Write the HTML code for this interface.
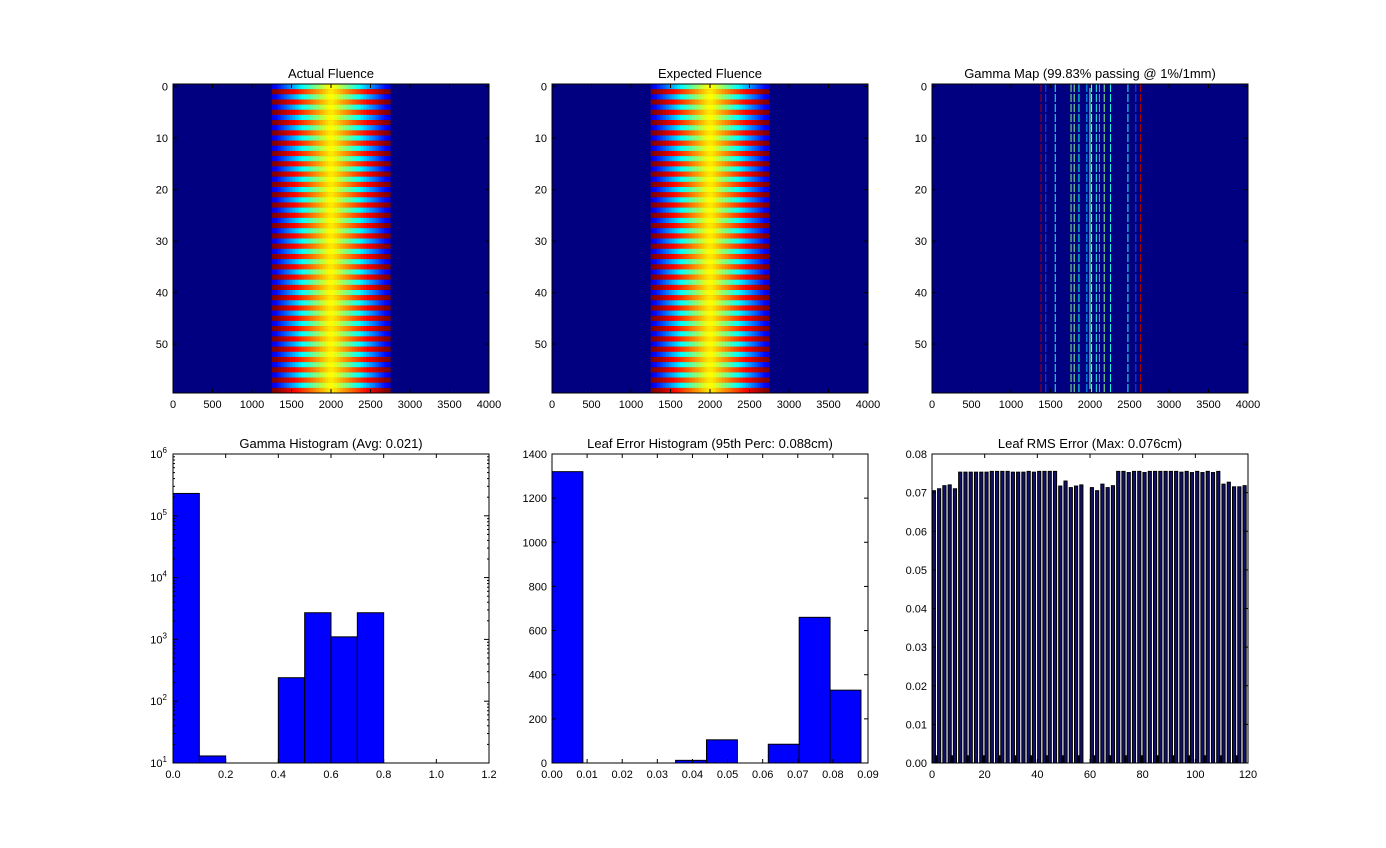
<!DOCTYPE html>
<html><head><meta charset="utf-8"><style>
body{margin:0;background:#fff;}
svg{display:block;font-family:"Liberation Sans","DejaVu Sans",sans-serif;}
</style></head><body>
<svg id="fig" width="1386" height="848" xmlns="http://www.w3.org/2000/svg"></svg>
<script>
// ---- data ----
const gammaBinEdges=[0,0.1,0.2,0.3,0.4,0.5,0.6,0.7,0.8,0.9,1.0];
const gammaCounts=[230000,13,0,0,240,2700,1100,2700,0,0];
const leafBinEdges=[0,0.0088,0.0176,0.0264,0.0352,0.044,0.0528,0.0616,0.0704,0.0792,0.088];
const leafCounts=[1320,0,0,0,12,105,0,85,660,330];
const rmsLeaves=[0,2,4,6,8,10,12,14,16,18,20,22,24,26,28,30,32,34,36,38,40,42,44,46,48,50,52,54,56,58,60,62,64,66,68,70,72,74,76,78,80,82,84,86,88,90,92,94,96,98,100,102,104,106,108,110,112,114,116,118];
const rmsValues=[0.0705,0.071,0.0718,0.072,0.071,0.0753,0.0753,0.0753,0.0753,0.0753,0.0753,0.0755,0.0755,0.0755,0.0755,0.0753,0.0753,0.0753,0.0755,0.0753,0.0755,0.0755,0.0755,0.0755,0.0717,0.073,0.0713,0.0717,0.072,0.0,0.0713,0.0705,0.0722,0.0713,0.0718,0.0755,0.0755,0.0752,0.0755,0.0755,0.0752,0.0755,0.0755,0.0755,0.0755,0.0755,0.0755,0.0753,0.0755,0.0752,0.0755,0.0752,0.0755,0.0752,0.0755,0.0722,0.0727,0.0715,0.0715,0.0718];
const gammaLinesX=[1380,1440,1560,1760,1800,1860,1960,2020,2080,2120,2180,2260,2480,2580,2640];
const gammaLinesV=[0.95,0.2,0.4,0.5,0.5,0.4,0.3,0.55,0.4,0.3,0.5,0.4,0.4,0.2,0.95];
const xTicksImg=[0,500,1000,1500,2000,2500,3000,3500,4000];
const yTicksImg=[0,10,20,30,40,50];

const NS="http://www.w3.org/2000/svg";
const svg=document.getElementById('fig');
function el(tag,attrs,parent){const e=document.createElementNS(NS,tag);for(const k in attrs)e.setAttribute(k,attrs[k]);(parent||svg).appendChild(e);return e;}
function txt(x,y,s,anchor,size,parent){const t=el('text',{x:x,y:y,'text-anchor':anchor,'font-size':size},parent);t.textContent=s;return t;}
function jet(v){v=Math.max(0,Math.min(1,v));const c=x=>Math.round(255*Math.max(0,Math.min(1,x)));
 const r=c(Math.min(4*v-1.5,-4*v+4.5)),g=c(Math.min(4*v-0.5,-4*v+3.5)),b=c(Math.min(4*v+0.5,-4*v+2.5));return `rgb(${r},${g},${b})`;}

function frame(x0,y0,w,h,title,name){
 const g=el('g',{});
 
 
 const t=txt(x0+w/2,y0-6,title,'middle',13,g);
 
 
 return g;
}
function border(g,x0,y0,w,h){el('rect',{x:x0,y:y0,width:w,height:h,fill:'none',stroke:'#000','stroke-width':1},g);}
function xtick(g,x,y0,h,label){el('line',{x1:x,x2:x,y1:y0+h,y2:y0+h-4,stroke:'#000'},g);el('line',{x1:x,x2:x,y1:y0,y2:y0+4,stroke:'#000'},g);txt(x,y0+h+15,label,'middle',11,g);}
function ytick(g,y,x0,w,label){el('line',{x1:x0,x2:x0+4,y1:y,y2:y,stroke:'#000'},g);el('line',{x1:x0+w,x2:x0+w-4,y1:y,y2:y,stroke:'#000'},g);txt(x0-5,y+4,label,'end',11,g);}

const IY=84,IW=316,IH=309;
function fluence(x0,title,name){
 const g=frame(x0,IY,IW,IH,title,name);
 el('rect',{x:x0,y:IY,width:IW,height:IH,fill:jet(0)},g);
 const sx=v=>x0+v/4000*IW, rowH=IH/60;
 const cols=40, c0=1250,c1=2750;
 for(let r=0;r<60;r++){
  for(let c=0;c<cols;c++){
   const xv=c0+(c1-c0)*c/cols, xc=xv+(c1-c0)/cols/2;
   const d=Math.abs(xc-2000)/750;
   const v=(r%2==0)?0.64-0.55*d:0.64+0.38*d;
   el('rect',{x:sx(xv),y:IY+r*rowH,width:(c1-c0)/cols/4000*IW+0.3,height:rowH+0.2,fill:jet(v)},g);
  }
 }
 border(g,x0,IY,IW,IH);
 xTicksImg.forEach(t=>xtick(g,sx(t),IY,IH,String(t)));
 yTicksImg.forEach(t=>ytick(g,IY+(t+0.5)*rowH,x0,IW,String(t)));
}
fluence(173,'Actual Fluence','actual-fluence-panel');
fluence(552,'Expected Fluence','expected-fluence-panel');

(function(){
 const x0=932;const g=frame(x0,IY,IW,IH,'Gamma Map (99.83% passing @ 1%/1mm)','gamma-map-panel');
 el('rect',{x:x0,y:IY,width:IW,height:IH,fill:jet(0)},g);
 const sx=v=>x0+v/4000*IW,rowH=IH/60;
 gammaLinesX.forEach((xv,i)=>{
  const l=el('line',{x1:sx(xv),x2:sx(xv),y1:IY,y2:IY+IH,stroke:jet(gammaLinesV[i]),'stroke-width':1,'stroke-dasharray':'8,2'},g);
  
  
 });
 el('line',{x1:sx(2000),x2:sx(2000),y1:IY,y2:IY+IH,stroke:'#40ff90','stroke-width':1.2},g);
 border(g,x0,IY,IW,IH);
 xTicksImg.forEach(t=>xtick(g,sx(t),IY,IH,String(t)));
 yTicksImg.forEach(t=>ytick(g,IY+(t+0.5)*rowH,x0,IW,String(t)));
})();

const BY=454,BH=309;
(function(){
 const x0=173,w=316;const g=frame(x0,BY,w,BH,'Gamma Histogram (Avg: 0.021)','gamma-histogram-panel');
 const sx=v=>x0+v/1.2*w, sy=v=>BY+BH-(Math.log10(v)-1)/5*BH;
 gammaCounts.forEach((c,i)=>{ if(c<=10)return;
  const r=el('rect',{x:sx(gammaBinEdges[i]),y:sy(c),width:sx(gammaBinEdges[i+1])-sx(gammaBinEdges[i]),height:BY+BH-sy(c),fill:'#0000ff',stroke:'#000'},g);
  
  
 });
 border(g,x0,BY,w,BH);
 [0,0.2,0.4,0.6,0.8,1.0,1.2].forEach(t=>xtick(g,sx(t),BY,BH,t.toFixed(1)));
 for(let e=1;e<=6;e++){const y=sy(Math.pow(10,e));
  el('line',{x1:x0,x2:x0+5,y1:y,y2:y,stroke:'#000'},g);el('line',{x1:x0+w,x2:x0+w-5,y1:y,y2:y,stroke:'#000'},g);
  const t=el('text',{x:x0-6,y:y+4,'text-anchor':'end','font-size':11},g);t.innerHTML='10<tspan dy="-5" font-size="8">'+e+'</tspan>';
  if(e<6)for(let m=2;m<10;m++){const ym=sy(m*Math.pow(10,e));el('line',{x1:x0,x2:x0+2,y1:ym,y2:ym,stroke:'#000'},g);el('line',{x1:x0+w,x2:x0+w-2,y1:ym,y2:ym,stroke:'#000'},g);}
 }
})();
(function(){
 const x0=552,w=316;const g=frame(x0,BY,w,BH,'Leaf Error Histogram (95th Perc: 0.088cm)','leaf-error-histogram-panel');
 const sx=v=>x0+v/0.09*w, sy=v=>BY+BH-v/1400*BH;
 leafCounts.forEach((c,i)=>{ if(c<=0)return;
  const r=el('rect',{x:sx(leafBinEdges[i]),y:sy(c),width:sx(leafBinEdges[i+1])-sx(leafBinEdges[i]),height:BY+BH-sy(c),fill:'#0000ff',stroke:'#000'},g);
  
  
 });
 border(g,x0,BY,w,BH);
 [0,0.01,0.02,0.03,0.04,0.05,0.06,0.07,0.08,0.09].forEach(t=>xtick(g,sx(t),BY,BH,t.toFixed(2)));
 [0,200,400,600,800,1000,1200,1400].forEach(t=>ytick(g,sy(t),x0,w,String(t)));
})();
(function(){
 const x0=932,w=316;const g=frame(x0,BY,w,BH,'Leaf RMS Error (Max: 0.076cm)','leaf-rms-panel');
 const sx=v=>x0+v/120*w, sy=v=>BY+BH-v/0.08*BH;
 rmsLeaves.forEach((lf,i)=>{const v=rmsValues[i];
  const r=el('rect',{x:sx(lf)+0.3,y:sy(v),width:sx(1.2)-sx(0),height:BY+BH-sy(v),fill:'#10106a',stroke:'#000','stroke-width':1},g);
  
  
  if(i%3==0){const s=el('rect',{x:sx(lf+1),y:sy(0.002),width:sx(1)-sx(0),height:BY+BH-sy(0.002),fill:'#000'},g);
   
   }
 });
 border(g,x0,BY,w,BH);
 [0,20,40,60,80,100,120].forEach(t=>xtick(g,sx(t),BY,BH,String(t)));
 [0,0.01,0.02,0.03,0.04,0.05,0.06,0.07,0.08].forEach(t=>ytick(g,sy(t),x0,w,t.toFixed(2)));
})();
</script>
</body></html>
